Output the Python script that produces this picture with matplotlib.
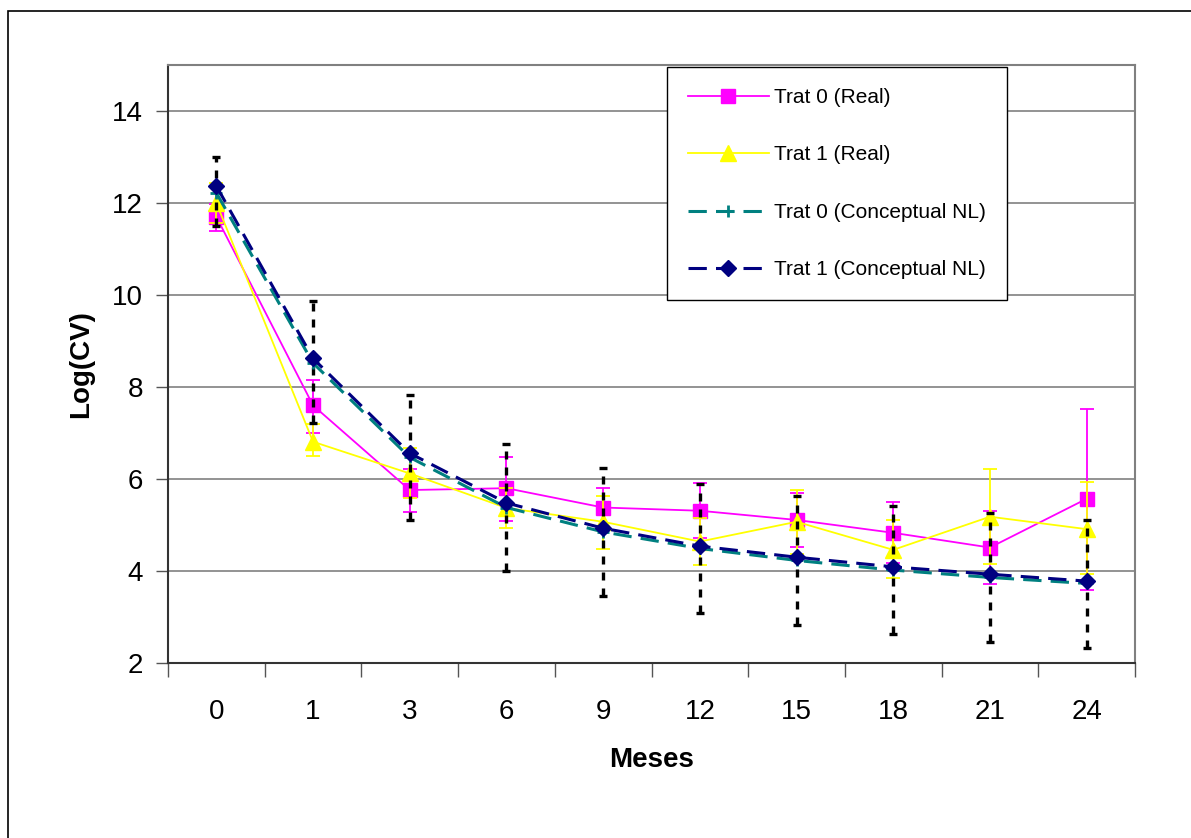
from matplotlib import pyplot as plt
from matplotlib.patches import Rectangle
from matplotlib.ticker import MultipleLocator, FixedLocator
import numpy as np

plt.rcParams["font.family"] = ["Liberation Sans", "DejaVu Sans"]

# months on the category axis
MONTHS = ["0", "1", "3", "6", "9", "12", "15", "18", "21", "24"]

# observed means and error bar limits
t0_real = [11.70, 7.60, 5.76, 5.80, 5.38, 5.31, 5.11, 4.83, 4.51, 5.57]
t0_real_hi = [11.98, 8.15, 6.22, 6.48, 5.81, 5.92, 5.70, 5.50, 5.30, 7.53]
t0_real_lo = [11.39, 7.01, 5.29, 5.09, 4.95, 4.72, 4.53, 4.17, 3.71, 3.58]

t1_real = [12.00, 6.81, 6.12, 5.37, 5.07, 4.64, 5.07, 4.46, 5.18, 4.91]
t1_real_hi = [12.44, 7.19, 6.68, 5.80, 5.63, 5.16, 5.76, 5.11, 6.21, 5.93]
t1_real_lo = [11.56, 6.49, 5.58, 4.94, 4.47, 4.12, 4.38, 3.84, 4.15, 3.93]

# conceptual non-linear model
t0_nl = [12.22, 8.52, 6.47, 5.38, 4.85, 4.49, 4.23, 4.02, 3.86, 3.73]
t1_nl = [12.37, 8.62, 6.56, 5.48, 4.93, 4.54, 4.30, 4.09, 3.93, 3.78]
nl_hi = [13.00, 9.87, 7.83, 6.76, 6.23, 5.89, 5.63, 5.41, 5.27, 5.11]
nl_lo = [11.50, 7.22, 5.11, 4.00, 3.46, 3.09, 2.83, 2.62, 2.45, 2.33]

W, H = 1191, 838
fig = plt.figure(figsize=(W / 100, H / 100), dpi=100)
ax = fig.add_axes([168 / W, (H - 663) / H, (1135 - 168) / W, (663 - 65) / H])

x = np.arange(len(MONTHS))


def yerr(y, lo, hi):
    y = np.array(y)
    return [y - np.array(lo), np.array(hi) - y]


# real series
r0 = ax.errorbar(x, t0_real, yerr=yerr(t0_real, t0_real_lo, t0_real_hi), color="#FF00FF",
                 marker="s", markersize=10, linewidth=1.3, elinewidth=1.3, capsize=5,
                 capthick=1.3, zorder=3)
r1 = ax.errorbar(x, t1_real, yerr=yerr(t1_real, t1_real_lo, t1_real_hi), color="#FFFF00",
                 marker="^", markersize=11, linewidth=1.3, elinewidth=1.3, capsize=5,
                 capthick=1.3, zorder=4)

# black dotted error bars of the model
eb = ax.errorbar(x, t0_nl, yerr=yerr(t0_nl, nl_lo, nl_hi), fmt="none", ecolor="black",
                 elinewidth=2.4, capsize=3, capthick=2.4, zorder=5)
eb[2][0].set_linestyle((0, (2.4, 2.4)))

n0, = ax.plot(x, t0_nl, color="#008080", linewidth=2.2, dashes=(6, 3), marker="+",
              markersize=9, markeredgewidth=2, zorder=6)
n1, = ax.plot(x, t1_nl, color="#000080", linewidth=2.2, dashes=(6, 3), marker="D",
              markersize=8, zorder=7)

ax.set_xlim(-0.5, len(MONTHS) - 0.5)
ax.set_ylim(2, 15)
ax.yaxis.set_major_locator(FixedLocator([2, 4, 6, 8, 10, 12, 14]))
ax.set_xticks(x)
ax.set_xticklabels(MONTHS)
ax.xaxis.set_minor_locator(MultipleLocator(1, offset=0.5))
ax.tick_params(axis="x", which="major", length=0, pad=26, labelsize=20)
ax.tick_params(axis="x", which="minor", length=10, width=1, color="#555555")
ax.tick_params(axis="y", which="major", length=9, width=1, pad=9, labelsize=20, color="#555555")

ax.grid(axis="y", color="#808080", linewidth=1.2)
ax.set_axisbelow(True)
for side in ["top", "right"]:
    ax.spines[side].set_color("#808080")
    ax.spines[side].set_linewidth(1.5)
for side in ["left", "bottom"]:
    ax.spines[side].set_color("#333333")
    ax.spines[side].set_linewidth(1.5)

ax.set_xlabel("Meses", fontsize=20, fontweight="bold", labelpad=16)
ax.set_ylabel("Log(CV)", fontsize=20, fontweight="bold", labelpad=13)

lgd = ax.legend([r0[0], r1[0], n0, n1],
                ["Trat 0 (Real)", "Trat 1 (Real)", "Trat 0 (Conceptual NL)", "Trat 1 (Conceptual NL)"],
                loc="upper left", bbox_to_anchor=(667 / W, 1 - 67 / H),
                bbox_transform=fig.transFigure, fontsize=15, frameon=True,
                fancybox=False, edgecolor="black", framealpha=1,
                handlelength=3.9, handletextpad=0.25, labelspacing=1.85,
                borderpad=1.0, borderaxespad=0)
lgd.get_frame().set_linewidth(1.0)
lgd.set_zorder(10)

# outer chart border
fig.patches.append(Rectangle((8 / W, -0.05), 1.2, (H - 11) / H + 0.05,
                             transform=fig.transFigure, fill=False,
                             edgecolor="black", linewidth=1.2))

fig.savefig("out.png", dpi=100)
